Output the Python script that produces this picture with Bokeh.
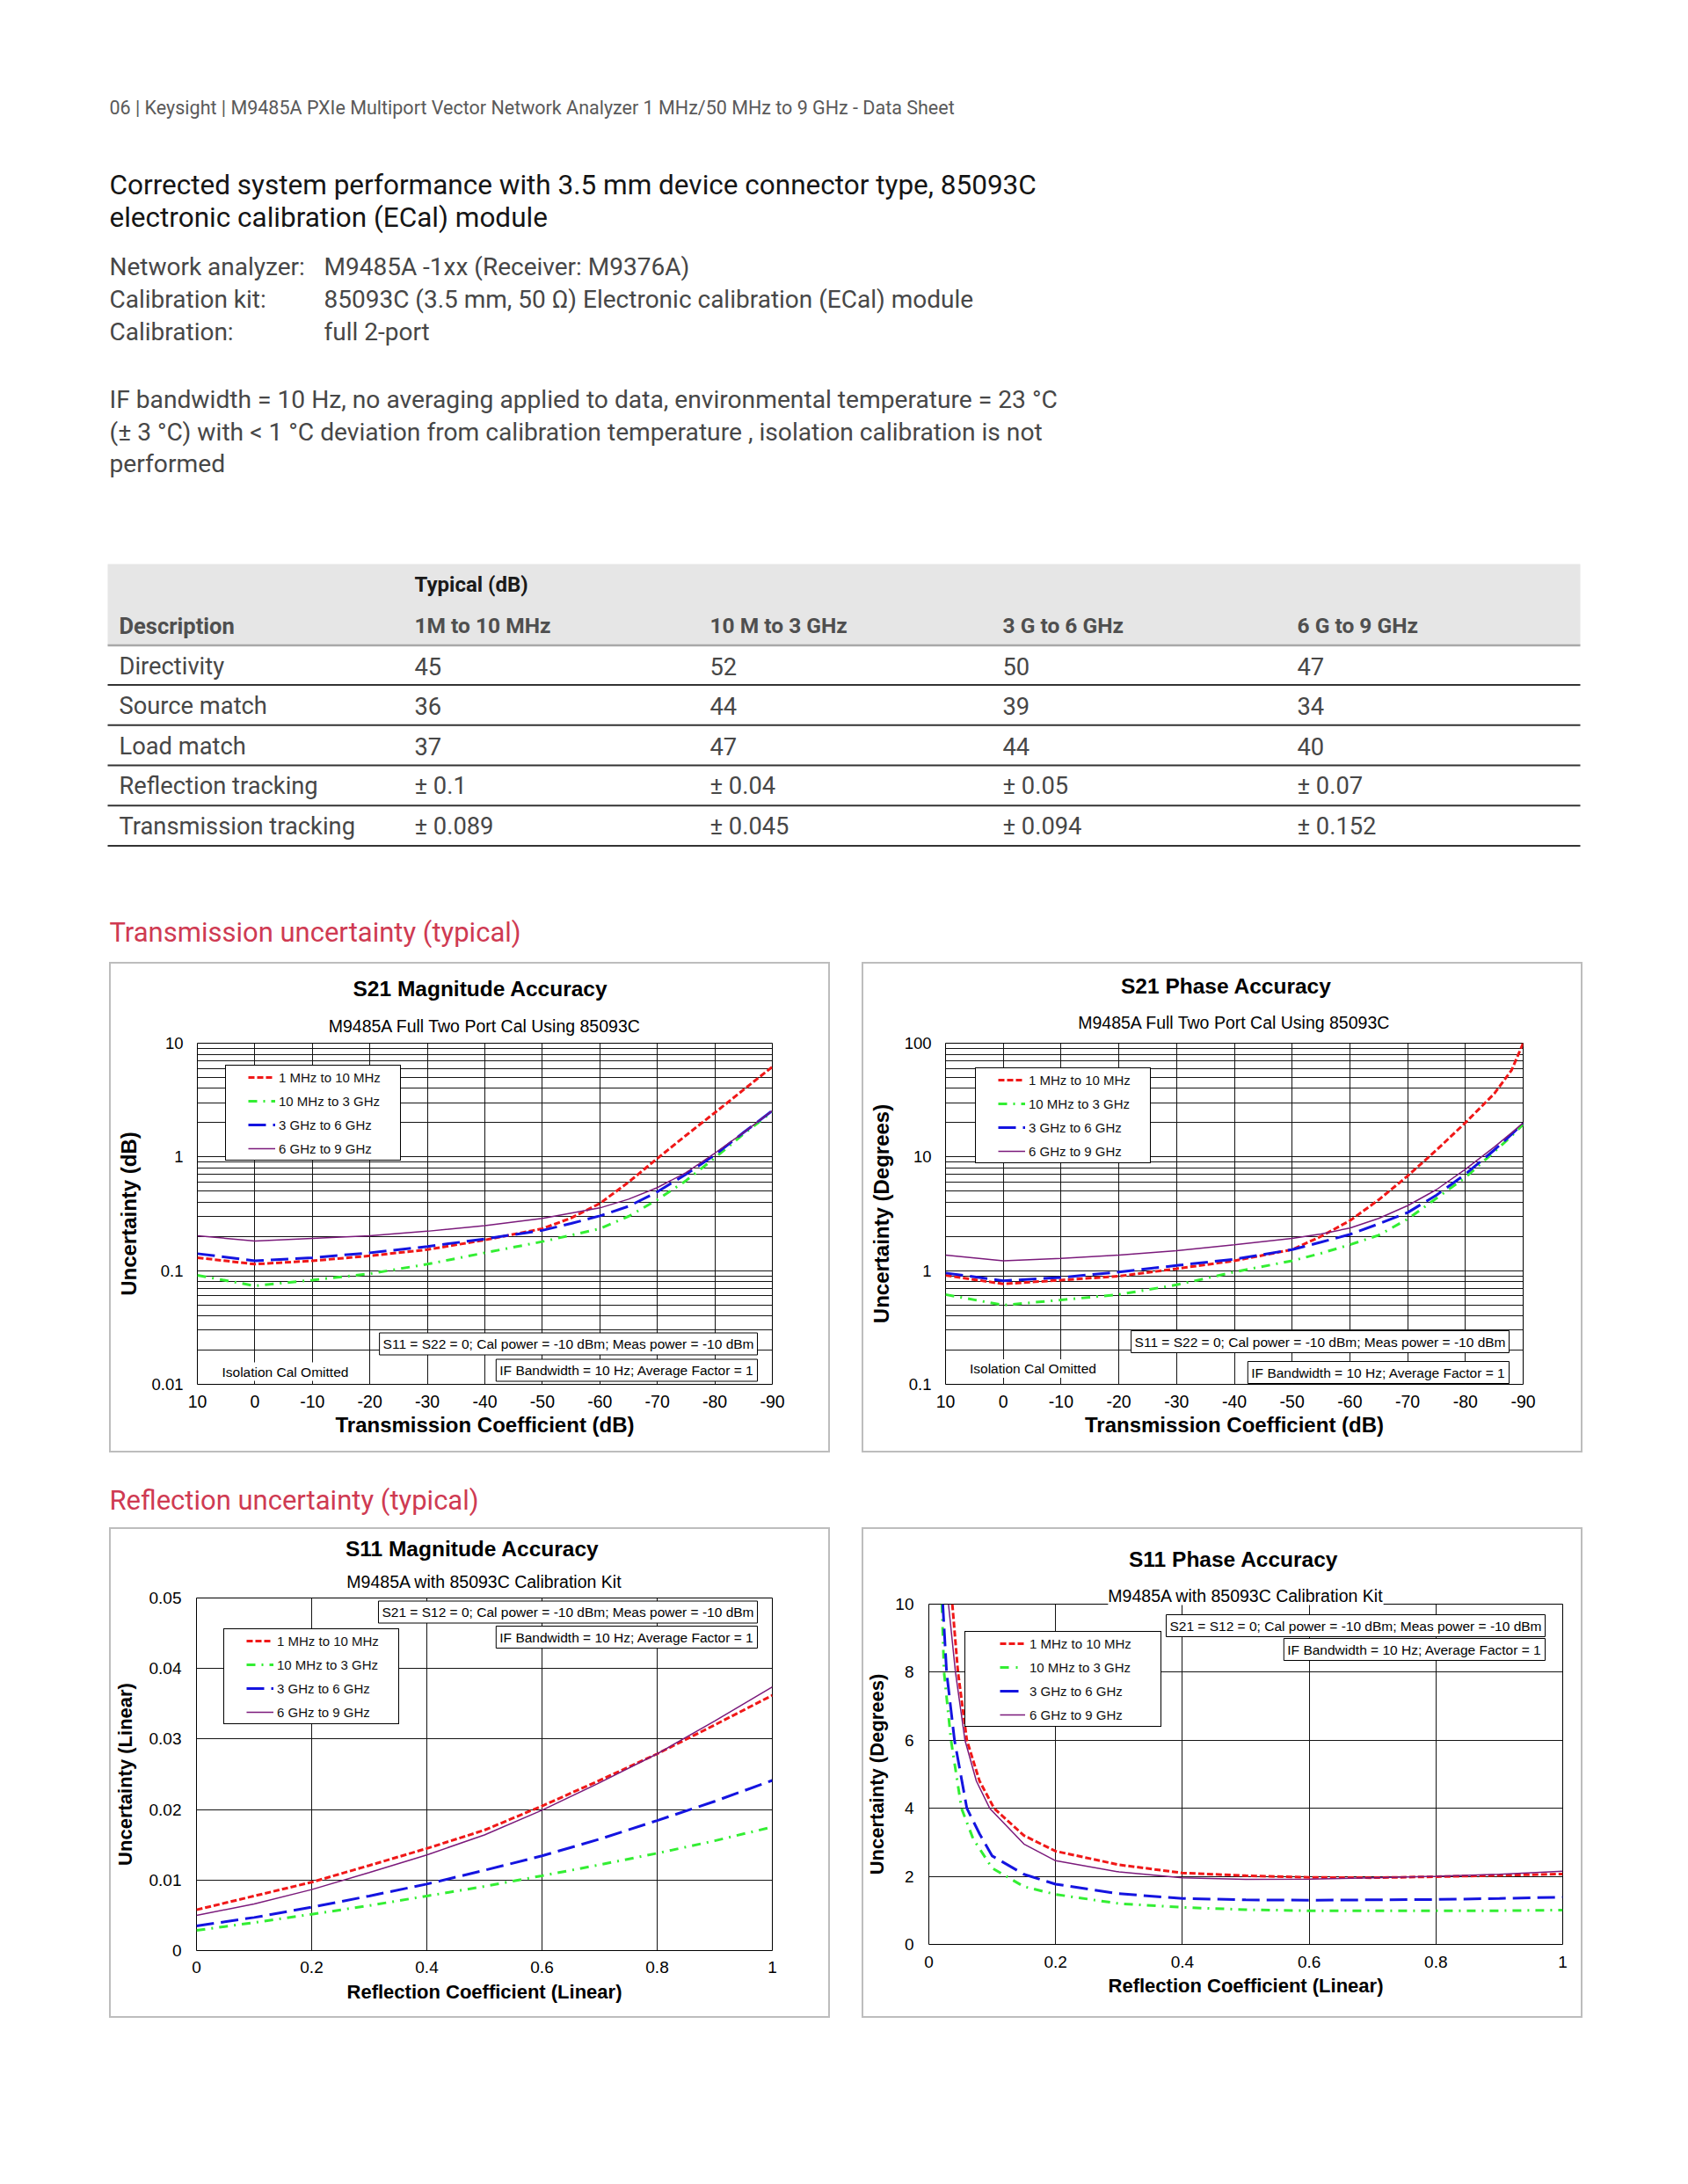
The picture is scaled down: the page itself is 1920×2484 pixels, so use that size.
import math
from bokeh.plotting import figure
from bokeh.models import Range1d, FixedTicker, Label, Legend, LegendItem, Spacer, Title
from bokeh.layouts import column, row
from bokeh.embed import file_html
from bokeh.resources import INLINE
from bokeh.core.properties import value

# ---------------- page text ----------------
HEADER = "06 | Keysight | M9485A PXIe Multiport Vector Network Analyzer 1 MHz/50 MHz to 9 GHz - Data Sheet"
TITLE_LINES = ["Corrected system performance with 3.5 mm device connector type, 85093C",
               "electronic calibration (ECal) module"]
INFO_LABELS = ["Network analyzer:", "Calibration kit:", "Calibration:"]
INFO_VALUES = ["M9485A -1xx (Receiver: M9376A)",
               "85093C (3.5 mm, 50 \u03a9) Electronic calibration (ECal) module",
               "full 2-port"]
CONDITIONS = ["IF bandwidth = 10 Hz, no averaging applied to data, environmental temperature = 23 \u00b0C",
              "(\u00b1 3 \u00b0C) with < 1 \u00b0C deviation from calibration temperature , isolation calibration is not",
              "performed"]
TABLE_GROUP = "Typical (dB)"
TABLE_HEAD = ["Description", "1M to 10 MHz", "10 M to 3 GHz", "3 G to 6 GHz", "6 G to 9 GHz"]
TABLE_ROWS = ["Directivity", "Source match", "Load match", "Reflection tracking", "Transmission tracking"]
TABLE_VALUES = [["45", "52", "50", "47"],
                ["36", "44", "39", "34"],
                ["37", "47", "44", "40"],
                ["\u00b1 0.1", "\u00b1 0.04", "\u00b1 0.05", "\u00b1 0.07"],
                ["\u00b1 0.089", "\u00b1 0.045", "\u00b1 0.094", "\u00b1 0.152"]]
SECTION_1 = "Transmission uncertainty (typical)"
SECTION_2 = "Reflection uncertainty (typical)"

SERIES = ["1 MHz to 10 MHz", "10 MHz to 3 GHz", "3 GHz to 6 GHz", "6 GHz to 9 GHz"]

# ---------------- ticks ----------------
TC_TICKS = [10, 0, -10, -20, -30, -40, -50, -60, -70, -80, -90]
TC_LABELS = ["10", "0", "-10", "-20", "-30", "-40", "-50", "-60", "-70", "-80", "-90"]
RC_TICKS = [0, 0.2, 0.4, 0.6, 0.8, 1]
RC_LABELS = ["0", "0.2", "0.4", "0.6", "0.8", "1"]
S21_MAG_TICKS = [0.01, 0.1, 1, 10]
S21_MAG_LABELS = ["0.01", "0.1", "1", "10"]
S21_PH_TICKS = [0.1, 1, 10, 100]
S21_PH_LABELS = ["0.1", "1", "10", "100"]
S11_MAG_TICKS = [0, 0.01, 0.02, 0.03, 0.04, 0.05]
S11_MAG_LABELS = ["0", "0.01", "0.02", "0.03", "0.04", "0.05"]
S11_PH_TICKS = [0, 2, 4, 6, 8, 10]
S11_PH_LABELS = ["0", "2", "4", "6", "8", "10"]

# ---------------- data: S21 magnitude (dB) ----------------
S21_MAG_X = [10, 0, -10, -20, -30, -40, -50, -55, -60, -65, -70, -75, -80, -85, -90]
S21_MAG_1M = [0.130, 0.114, 0.122, 0.135, 0.153, 0.186, 0.234, 0.29, 0.39, 0.60, 0.97, 1.55, 2.45, 3.9, 6.2]
S21_MAG_10M = [0.091, 0.0735, 0.0826, 0.094, 0.114, 0.1435, 0.180, 0.205, 0.234, 0.30, 0.42, 0.62, 0.98, 1.59, 2.5]
S21_MAG_3G = [0.141, 0.122, 0.130, 0.1435, 0.163, 0.190, 0.226, 0.26, 0.303, 0.368, 0.493, 0.705, 1.04, 1.64, 2.55]
S21_MAG_6G = [0.203, 0.182, 0.192, 0.203, 0.222, 0.249, 0.288, 0.32, 0.356, 0.425, 0.537, 0.729, 1.08, 1.64, 2.55]

# ---------------- data: S21 phase (degrees) ----------------
S21_PH_X = [10, 0, -10, -20, -30, -40, -50, -55, -60, -65, -70, -75, -80, -85, -88, -90]
S21_PH_1M = [0.91, 0.764, 0.826, 0.893, 1.04, 1.22, 1.53, 2.0, 2.75, 4.2, 6.8, 11.5, 20.0, 36.0, 58.0, 100.0]
S21_PH_10M = [0.616, 0.497, 0.552, 0.616, 0.75, 0.973, 1.22, 1.42, 1.69, 2.05, 2.84, 4.33, 6.6, 11.1, 15.3, 19.3]
S21_PH_3G = [0.953, 0.815, 0.87, 0.973, 1.11, 1.26, 1.53, 1.78, 2.08, 2.58, 3.24, 4.62, 7.05, 11.5, 15.8, 19.7]
S21_PH_6G = [1.37, 1.22, 1.28, 1.37, 1.50, 1.69, 1.92, 2.1, 2.37, 2.88, 3.73, 5.16, 7.78, 12.2, 16.3, 19.9]

# ---------------- data: S11 magnitude (linear) ----------------
S11_MAG_X = [0, 0.1, 0.2, 0.3, 0.4, 0.5, 0.6, 0.7, 0.8, 0.9, 1.0]
S11_MAG_1M = [0.00578, 0.00774, 0.0097, 0.01207, 0.01448, 0.01708, 0.0205, 0.02413, 0.0279, 0.0320, 0.0362]
S11_MAG_10M = [0.00287, 0.00396, 0.00515, 0.00638, 0.00774, 0.0091, 0.01061, 0.01216, 0.0138, 0.01557, 0.01753]
S11_MAG_3G = [0.0035, 0.00469, 0.00615, 0.00774, 0.00943, 0.01138, 0.01343, 0.0158, 0.01844, 0.02117, 0.02413]
S11_MAG_6G = [0.0050, 0.0066, 0.00865, 0.01107, 0.01357, 0.0164, 0.0199, 0.0238, 0.0279, 0.03256, 0.0374]

# ---------------- data: S11 phase (degrees) ----------------
S11_PH_X_1M = [0.037, 0.046, 0.06, 0.08, 0.103, 0.15, 0.2, 0.3, 0.4, 0.5, 0.6, 0.7, 0.8, 0.9, 1.0]
S11_PH_1M = [10, 8, 6, 4.8, 4.0, 3.2, 2.74, 2.34, 2.1, 2.02, 1.97, 1.96, 1.99, 2.03, 2.07]
S11_PH_X_10M = [0.0206, 0.024, 0.035, 0.0515, 0.07, 0.1, 0.15, 0.2, 0.3, 0.4, 0.5, 0.6, 0.7, 0.8, 0.9, 1.0]
S11_PH_10M = [10, 8, 6, 4, 3.1, 2.24, 1.70, 1.47, 1.20, 1.09, 1.02, 0.99, 0.99, 0.99, 0.99, 1.01]
S11_PH_X_3G = [0.022, 0.028, 0.0405, 0.06, 0.08, 0.1, 0.15, 0.2, 0.3, 0.4, 0.5, 0.6, 0.7, 0.8, 0.9, 1.0]
S11_PH_3G = [10, 8, 6, 4, 3.25, 2.6, 2.06, 1.77, 1.49, 1.35, 1.31, 1.30, 1.31, 1.32, 1.35, 1.39]
S11_PH_X_6G = [0.031, 0.042, 0.057, 0.075, 0.096, 0.15, 0.2, 0.3, 0.4, 0.5, 0.6, 0.7, 0.8, 0.9, 1.0]
S11_PH_6G = [10, 8, 6, 4.8, 4.0, 2.95, 2.46, 2.13, 1.96, 1.91, 1.92, 1.96, 2.0, 2.06, 2.15]

# ---------------- styles ----------------
LINE_STYLES = [dict(line_color="#f01818", line_width=3, line_dash="7 3"),
               dict(line_color="#33ee33", line_width=3, line_dash="10 7 2 7"),
               dict(line_color="#1414e0", line_width=3, line_dash="20 8"),
               dict(line_color="#7b1a7b", line_width=1.5, line_dash="solid")]
LEGEND_DASH_A = ["0 {g} 7 3 7 3 7 60", "0 {g} 10 7 2 7 5 60", "0 {g} 20 8 3 60", "0 {g} 31 60"]
LEGEND_DASH_B = ["0 {g} 7 3 7 3 7 60", "0 {g} 10 8 2 60", "0 {g} 21 60", "0 {g} 32 60"]

CH_FONT = "Liberation Sans"
PG_FONT = "Roboto"
RED_HEAD = "#cf3a52"
BOX_GREY = {"background-color": "#bdbdbd"}
NAN = float("nan")


def make_chart(fl, ft, fw, fh, xr, yr, ylog, xt, xtl, yt, ytl, ymin,
               xlab, ylab, lab_fs, xt_fs, yt_fs, yt_sd, ylab_sd, xt_sd, xlab_sd,
               series, leg, title, subtitle, notes, w=816, h=554):
    # fl / ft are measured from the outer grey box; the figure sits 2 px inside it
    fl -= 2
    ft -= 2
    fr = w - fl - fw
    fb = h - ft - fh
    p = figure(width=w, height=h, x_range=Range1d(*xr), y_range=Range1d(*yr),
               y_axis_type="log" if ylog else "linear", title=None,
               output_backend="svg", toolbar_location=None,
               min_border_left=fl, min_border_right=fr, min_border_top=ft, min_border_bottom=fb)
    p.background_fill_color = "white"
    p.border_fill_color = "white"
    p.outline_line_color = "black"
    p.outline_line_width = 1
    xa = p.xaxis[0]
    ya = p.yaxis[0]
    xa.ticker = FixedTicker(ticks=xt)
    xa.major_label_overrides = dict(zip(xt, xtl))
    ya.ticker = FixedTicker(ticks=yt, minor_ticks=ymin)
    ya.major_label_overrides = dict(zip(yt, ytl))
    for ax in (xa, ya):
        ax.axis_line_color = None
        ax.major_tick_line_color = None
        ax.minor_tick_line_color = None
        ax.major_tick_in = 0
        ax.major_tick_out = 0
        ax.minor_tick_in = 0
        ax.minor_tick_out = 0
        ax.major_label_text_font = CH_FONT
        ax.major_label_text_color = "black"
        ax.axis_label_text_font = CH_FONT
        ax.axis_label_text_font_style = "bold"
        ax.axis_label_text_font_size = lab_fs
        ax.axis_label_text_color = "black"
    xa.major_label_text_font_size = xt_fs
    ya.major_label_text_font_size = yt_fs
    xa.major_label_standoff = xt_sd
    ya.major_label_standoff = yt_sd
    xa.axis_label = xlab
    ya.axis_label = ylab
    xa.axis_label_standoff = xlab_sd
    ya.axis_label_standoff = ylab_sd
    p.xgrid.grid_line_color = "#141414"
    p.ygrid.grid_line_color = "#141414"
    p.xgrid.grid_line_width = 1
    p.ygrid.grid_line_width = 1
    if ylog:
        p.ygrid.minor_grid_line_color = "#141414"
        p.ygrid.minor_grid_line_width = 1

    for (xs, ys), st in zip(series, LINE_STYLES):
        p.line(xs, ys, **st)

    # legend: hidden one-point renderers carry the legend glyph styles
    lx, ly, gap, vis_dash, lw, lsd, vis_len = leg
    items = []
    for name, st, dpat in zip(SERIES, LINE_STYLES, vis_dash):
        r = p.line(x=[NAN], y=[NAN], line_color=st["line_color"], line_width=st["line_width"],
                   line_dash=dpat.format(g=gap))
        items.append(LegendItem(label=name, renderers=[r]))
    legend = Legend(items=items, location=(lx, ly), orientation="vertical", margin=0,
                    padding=3, spacing=7, glyph_width=gap + vis_len,
                    glyph_height=20, label_height=20, label_width=lw, label_standoff=lsd,
                    label_text_font=CH_FONT, label_text_font_size="15px", label_text_color="#111111",
                    border_line_color="black", border_line_width=1, border_line_alpha=1,
                    background_fill_color="white", background_fill_alpha=1)
    p.add_layout(legend)

    s_text, s_sd, s_bg = subtitle
    p.add_layout(Title(text=s_text, align="center", standoff=s_sd,
                       text_font=CH_FONT, text_font_size="19.5px", text_font_style="normal",
                       text_color="black", background_fill_color="white" if s_bg else None), "above")
    t_text, t_left, t_sd = title
    p.add_layout(Title(text=t_text, align="left", offset=t_left, standoff=t_sd,
                       text_font=CH_FONT, text_font_size="24.5px", text_font_style="bold",
                       text_color="black"), "above")

    for n_text, corner, dx, dy, border in notes:
        pad = 4 if border else 2
        if corner == "br":
            kw = dict(x=xr[1], y=yr[0], text_align="right", x_offset=-(dx + pad), y_offset=dy)
        elif corner == "tr":
            kw = dict(x=xr[1], y=yr[1], text_align="right", x_offset=-(dx + pad), y_offset=-dy)
        else:
            kw = dict(x=xr[0], y=yr[0], text_align="left", x_offset=dx + pad, y_offset=dy)
        p.add_layout(Label(text=n_text, text_baseline="middle", text_font=CH_FONT,
                           text_font_size="15.5px", text_color="black",
                           background_fill_color="white",
                           border_line_color="black" if border else None,
                           border_line_width=1, padding=pad, **kw))

    # light grey panel frame around the chart
    vbar = dict(width=2, height=h, styles=BOX_GREY)
    return column(Spacer(width=w + 4, height=2, styles=BOX_GREY),
                  row(Spacer(**vbar), p, Spacer(**vbar)),
                  Spacer(width=w + 4, height=2, styles=BOX_GREY))


def log_minor(lo_exp, hi_exp):
    return [k * 10 ** d for d in range(lo_exp, hi_exp) for k in range(2, 10)]


NOTE_S21_1 = "S11 = S22 = 0; Cal power = -10 dBm; Meas power = -10 dBm"
NOTE_S11_1 = "S21 = S12 = 0; Cal power = -10 dBm; Meas power = -10 dBm"
NOTE_2 = "IF Bandwidth = 10 Hz; Average Factor = 1"
NOTE_ISO = "Isolation Cal Omitted"

c1 = make_chart(100, 92, 654, 388, (10, -90), (0.01, 10), True,
                TC_TICKS, TC_LABELS, S21_MAG_TICKS, S21_MAG_LABELS, log_minor(-2, 1),
                "Transmission Coefficient (dB)", "Uncertainty (dB)", "24px", "19.5px", "18.5px",
                16, 9, 12, 3,
                [(S21_MAG_X, S21_MAG_1M), (S21_MAG_X, S21_MAG_10M), (S21_MAG_X, S21_MAG_3G), (S21_MAG_X, S21_MAG_6G)],
                (32, 254, 22, LEGEND_DASH_A, 135, 4, 31),
                ("S21 Magnitude Accuracy", 177, 18), ("M9485A Full Two Port Cal Using 85093C", 16.2, False),
                [(NOTE_S21_1, "br", 13, 46, True), (NOTE_2, "br", 13, 16, True), (NOTE_ISO, "bl", 24, 14.5, False)])

c2 = make_chart(95, 92, 657, 388, (10, -90), (0.1, 100), True,
                TC_TICKS, TC_LABELS, S21_PH_TICKS, S21_PH_LABELS, log_minor(-1, 2),
                "Transmission Coefficient (dB)", "Uncertainty (Degrees)", "24px", "19.5px", "18.5px",
                16, 10, 12, 3,
                [(S21_PH_X, S21_PH_1M), (S21_PH_X, S21_PH_10M), (S21_PH_X, S21_PH_3G), (S21_PH_X, S21_PH_6G)],
                (34, 251, 22, LEGEND_DASH_A, 135, 4, 31),
                ("S21 Phase Accuracy", 199.5, 6.6), ("M9485A Full Two Port Cal Using 85093C", 24.2, False),
                [(NOTE_S21_1, "br", 12, 48.5, True), (NOTE_2, "br", 12, 13.5, True), (NOTE_ISO, "bl", 23.5, 18, False)])

c3 = make_chart(99, 80, 655, 401, (0, 1), (0, 0.05), False,
                RC_TICKS, RC_LABELS, S11_MAG_TICKS, S11_MAG_LABELS, [],
                "Reflection Coefficient (Linear)", "Uncertainty (Linear)", "22px", "19px", "19px",
                17, 12, 12, 6,
                [(S11_MAG_X, S11_MAG_1M), (S11_MAG_X, S11_MAG_10M), (S11_MAG_X, S11_MAG_3G), (S11_MAG_X, S11_MAG_6G)],
                (31, 257, 22, LEGEND_DASH_A, 135, 4, 31),
                ("S11 Magnitude Accuracy", 169.4, 8.6), ("M9485A with 85093C Calibration Kit", 14.2, False),
                [(NOTE_S11_1, "tr", 13, 16, True), (NOTE_2, "tr", 13, 44.5, True)])

c4 = make_chart(75, 87, 722, 387, (0, 1), (0, 10), False,
                RC_TICKS, RC_LABELS, S11_PH_TICKS, S11_PH_LABELS, [],
                "Reflection Coefficient (Linear)", "Uncertainty (Degrees)", "22px", "19px", "19px",
                17, 5, 13, 5,
                [(S11_PH_X_1M, S11_PH_1M), (S11_PH_X_10M, S11_PH_10M), (S11_PH_X_3G, S11_PH_3G), (S11_PH_X_6G, S11_PH_6G)],
                (41, 247, 36, LEGEND_DASH_B, 146, 5, 29),
                ("S11 Phase Accuracy", 227.5, 32), ("M9485A with 85093C Calibration Kit", -2, True),
                [(NOTE_S11_1, "tr", 16, 24.5, True), (NOTE_2, "tr", 16, 51.5, True)])


# ---------------- page (text + table) ----------------
def page_fig(y0, y1):
    p = figure(width=1904, height=int(y1 - y0), x_range=Range1d(0, 1904), y_range=Range1d(y1, y0),
               title=None, output_backend="svg", toolbar_location=None,
               x_axis_location=None, y_axis_location=None, min_border=0)
    p.grid.visible = False
    p.outline_line_color = None
    p.background_fill_color = "white"
    p.border_fill_color = "white"
    return p


def put(p, xs, ys, texts, size, color, style="normal"):
    p.text(x=xs, y=ys, text=texts, text_font=value(PG_FONT), text_font_size=size,
           text_color=color, text_font_style=style, text_baseline="middle", text_align="left")


top = page_fig(0, 1094)
put(top, [124], [121.7], [HEADER], "21.5px", "#5a5a5a")
put(top, [124, 124], [210, 246.7], TITLE_LINES, "31.5px", "#151515")
put(top, [124] * 3, [303.3, 340, 376.8], INFO_LABELS, "28px", "#474747")
put(top, [368] * 3, [303.3, 340, 376.8], INFO_VALUES, "28px", "#474747")
put(top, [124] * 3, [453.8, 490.5, 527.2], CONDITIONS, "28.2px", "#474747")

TBL_L, TBL_R = 122, 1797
COL_X = [135, 471, 807, 1140, 1475]
top.quad(left=[TBL_L], right=[TBL_R], top=[641], bottom=[733], fill_color="#e6e6e6", line_color=None)
top.segment(x0=[TBL_L], y0=[733.5], x1=[TBL_R], y1=[733.5], line_color="#a8a8a8", line_width=2.5)
row_lines = [778.5 + 45.75 * i for i in range(len(TABLE_ROWS))]
top.segment(x0=[TBL_L] * len(row_lines), y0=row_lines, x1=[TBL_R] * len(row_lines), y1=row_lines,
            line_color="#333333", line_width=2)
put(top, [COL_X[1]], [664], [TABLE_GROUP], "24px", "#1a1a1a", "bold")
put(top, [COL_X[0]], [711.3], [TABLE_HEAD[0]], "25.5px", "#4f4f4f", "bold")
put(top, COL_X[1:], [711.3] * 4, TABLE_HEAD[1:], "24.5px", "#4f4f4f", "bold")
row_mid = [757 + 45.6 * i for i in range(len(TABLE_ROWS))]
put(top, [COL_X[0]] * len(TABLE_ROWS), row_mid, TABLE_ROWS, "27.3px", "#474747")
for j in range(4):
    put(top, [COL_X[j + 1]] * len(TABLE_ROWS), row_mid, [r[j] for r in TABLE_VALUES], "27.3px", "#474747")
put(top, [124], [1060.3], [SECTION_1], "31px", RED_HEAD)

mid = page_fig(1652, 1737)
put(mid, [124], [1705.7], [SECTION_2], "31px", RED_HEAD)

layout = column(
    top,
    row(Spacer(width=124, height=558), c1, Spacer(width=36, height=558), c2),
    mid,
    row(Spacer(width=124, height=558), c3, Spacer(width=36, height=558), c4),
)

open("out.html", "w").write(file_html(layout, INLINE))
